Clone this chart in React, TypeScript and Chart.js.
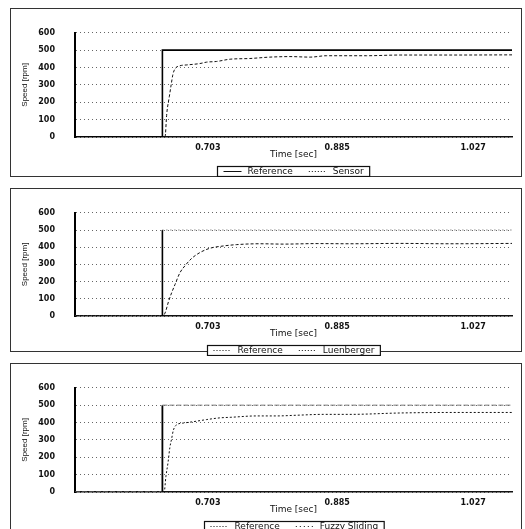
import React, { useEffect, useRef } from "react";
import { Chart, registerables } from "chart.js";

Chart.register(...registerables);

// ---------- data ----------
const yTickValues = [0, 100, 200, 300, 400, 500, 600];
const xTickPositions = [30.4, 60, 91.1];
const xTickLabels = ["0.703", "0.885", "1.027"];

const referenceX = [0, 20, 20, 100];
const referenceY = [0, 0, 500, 500];

const sensorX = [0, 20, 20.6, 21.0, 21.6, 22.0, 22.4, 22.9, 24.0, 25.6, 28.6, 30.1, 32.4, 35.5, 40.0, 44.6, 49.2, 53.8, 57.6, 66.7, 74.4, 85.8, 100];
const sensorY = [0, 0, 0, 135, 235, 300, 360, 393, 410, 415, 423, 431, 435, 448, 452, 460, 463, 460, 468, 468, 472, 472, 473];

const luenbergerX = [0, 20, 20.6, 21.4, 22.1, 22.9, 24.0, 25.2, 26.7, 28.6, 30.9, 33.9, 37.0, 42.3, 47.6, 55.4, 62.9, 74.4, 85.8, 100];
const luenbergerY = [0, 0, 17, 84, 134, 184, 251, 293, 335, 369, 394, 407, 415, 420, 418, 421, 420, 422, 420, 422];

const fuzzyX = [0, 20, 20.4, 20.8, 21.3, 21.7, 22.1, 22.5, 23.3, 24.8, 27.1, 30.1, 33.2, 35.5, 41.6, 46.2, 50.7, 56.8, 62.9, 74.4, 85.8, 100];
const fuzzyY = [0, 0, 0, 89, 172, 255, 305, 355, 388, 397, 405, 417, 427, 430, 438, 438, 442, 447, 447, 455, 458, 458];

const seriesLabels1 = ["Reference", "Sensor"];
const seriesLabels2 = ["Reference", "Luenberger"];
const seriesLabels3 = ["Reference", "Fuzzy Sliding"];

const yTitle = "Speed [rpm]";
const xTitle = "Time [sec]";

const pts = (xs: number[], ys: number[]) => xs.map((x, i) => ({ x, y: ys[i] }));

// ---------- legend plugin (boxed legend under the axis title) ----------
const boxLegend = {
  id: "boxLegend",
  afterDraw(chart: any) {
    const { ctx, chartArea } = chart;
    const ds = chart.data.datasets;
    ctx.save();
    ctx.font = "9px 'DejaVu Sans'";
    const sample = 18, pad = 6, gap = 6, between = 16;
    const widths = ds.map((d: any) => ctx.measureText(d.label).width);
    const total = pad * 2 + ds.length * (sample + gap) + widths.reduce((a: number, b: number) => a + b, 0) + between * (ds.length - 1);
    const cx = (chartArea.left + chartArea.right) / 2;
    const x0 = Math.round(cx - total / 2) + 0.5;
    const y0 = Math.round(chartArea.bottom + 29) + 0.5;
    const h = 10;
    ctx.fillStyle = "#fff";
    ctx.fillRect(x0, y0, total, h);
    ctx.strokeStyle = "#111";
    ctx.lineWidth = 1.2;
    ctx.strokeRect(x0, y0, total, h);
    let x = x0 + pad;
    const my = y0 + h / 2;
    ds.forEach((d: any, i: number) => {
      ctx.beginPath();
      ctx.setLineDash(d.legendDash || []);
      ctx.strokeStyle = "#111";
      ctx.lineWidth = 1;
      ctx.moveTo(x, my);
      ctx.lineTo(x + sample, my);
      ctx.stroke();
      ctx.setLineDash([]);
      x += sample + gap;
      ctx.fillStyle = "#111";
      ctx.textBaseline = "middle";
      ctx.textAlign = "left";
      ctx.fillText(d.label, x, my + 0.5);
      x += widths[i] + between;
    });
    ctx.restore();
  },
};

const vertical = (c: any) => c.p0.parsed.x === c.p1.parsed.x;

// ---------- panels ----------
const panels = [
  {
    boxTop: 8, boxHeight: 169, canvasHeight: 169, padTop: 9,
    datasets: [
      { label: seriesLabels1[0], data: pts(referenceX, referenceY), borderColor: "#000", borderWidth: 1.6, legendDash: [] },
      { label: seriesLabels1[1], data: pts(sensorX, sensorY), borderColor: "#111", borderWidth: 1, borderDash: [3, 2], cubicInterpolationMode: "monotone", legendDash: [1, 2] },
    ],
  },
  {
    boxTop: 188, boxHeight: 164, canvasHeight: 168, padTop: 9,
    datasets: [
      {
        label: seriesLabels2[0], data: pts(referenceX, referenceY), borderColor: "#000", borderWidth: 1.6, legendDash: [1, 2],
        segment: { borderDash: (c: any) => (vertical(c) ? undefined : [1, 3]), borderWidth: (c: any) => (vertical(c) ? undefined : 1), borderColor: (c: any) => (vertical(c) ? undefined : "#555") },
      },
      { label: seriesLabels2[1], data: pts(luenbergerX, luenbergerY), borderColor: "#111", borderWidth: 1, borderDash: [3, 2], cubicInterpolationMode: "monotone", legendDash: [1, 2] },
    ],
  },
  {
    boxTop: 363, boxHeight: 180, canvasHeight: 169, padTop: 11,
    datasets: [
      {
        label: seriesLabels3[0], data: pts(referenceX, referenceY), borderColor: "#000", borderWidth: 1.8, legendDash: [1, 2],
        segment: { borderDash: (c: any) => (vertical(c) ? undefined : [5, 2]), borderWidth: (c: any) => (vertical(c) ? undefined : 1), borderColor: (c: any) => (vertical(c) ? undefined : "#777") },
      },
      { label: seriesLabels3[1], data: pts(fuzzyX, fuzzyY), borderColor: "#111", borderWidth: 1, borderDash: [2, 2], cubicInterpolationMode: "monotone", legendDash: [1, 3] },
    ],
  },
];

const tickFont = { family: "'DejaVu Sans'", size: 8, weight: "bold" as const };

function Panel({ cfg }: { cfg: any }) {
  const ref = useRef<HTMLCanvasElement>(null);
  useEffect(() => {
    const chart = new Chart(ref.current as HTMLCanvasElement, {
      type: "line",
      data: {
        datasets: cfg.datasets.map((d: any) => ({ ...d, pointRadius: 0, fill: false, tension: 0 })),
      },
      options: {
        animation: false,
        responsive: false,
        devicePixelRatio: 1,
        events: [],
        layout: { padding: { top: cfg.padTop, right: 10, left: 0, bottom: 0 } },
        plugins: { legend: { display: false }, tooltip: { enabled: false } },
        scales: {
          x: {
            type: "linear",
            min: 0,
            max: 100,
            afterBuildTicks: (s: any) => {
              s.ticks = xTickPositions.map((v) => ({ value: v }));
            },
            afterFit: (s: any) => {
              s.height = 40;
            },
            grid: { display: false, drawTicks: false },
            border: { display: true, color: "#111", width: 1.5 },
            ticks: {
              callback: (_v: any, i: number) => xTickLabels[i],
              padding: 6,
              font: tickFont,
              color: "#111",
              maxRotation: 0,
              autoSkip: false,
            },
            title: {
              display: true,
              text: xTitle,
              font: { family: "'DejaVu Sans'", size: 9 },
              color: "#111",
              padding: { top: 0, bottom: 17 },
            },
          },
          y: {
            min: 0,
            max: 600,
            afterBuildTicks: (s: any) => {
              s.ticks = yTickValues.map((v) => ({ value: v }));
            },
            afterFit: (s: any) => {
              s.width = 65;
            },
            grid: { color: "#666", lineWidth: 1, drawTicks: false },
            border: { display: true, color: "#000", width: 2, dash: [1, 3] },
            ticks: { padding: 20, font: tickFont, color: "#111" },
            title: {
              display: true,
              text: yTitle,
              font: { family: "'Liberation Sans'", size: 8 },
              color: "#111",
              padding: { top: 10, bottom: 0 },
            },
          },
        },
      } as any,
      plugins: [boxLegend],
    });
    return () => chart.destroy();
  }, []);
  return (
    <>
      <div
        style={{
          position: "absolute",
          left: 10,
          top: cfg.boxTop,
          width: 512,
          height: cfg.boxHeight,
          border: "1px solid #333",
          boxSizing: "border-box",
        }}
      />
      <canvas
        ref={ref}
        width={512}
        height={cfg.canvasHeight}
        style={{ position: "absolute", left: 10, top: cfg.boxTop, width: 512, height: cfg.canvasHeight }}
      />
    </>
  );
}

export default function App() {
  return (
    <div
      style={{
        position: "absolute",
        left: 0,
        top: 0,
        width: 525,
        height: 529,
        overflow: "hidden",
        background: "#fff",
      }}
    >
      {panels.map((p, i) => (
        <Panel key={i} cfg={p} />
      ))}
    </div>
  );
}
